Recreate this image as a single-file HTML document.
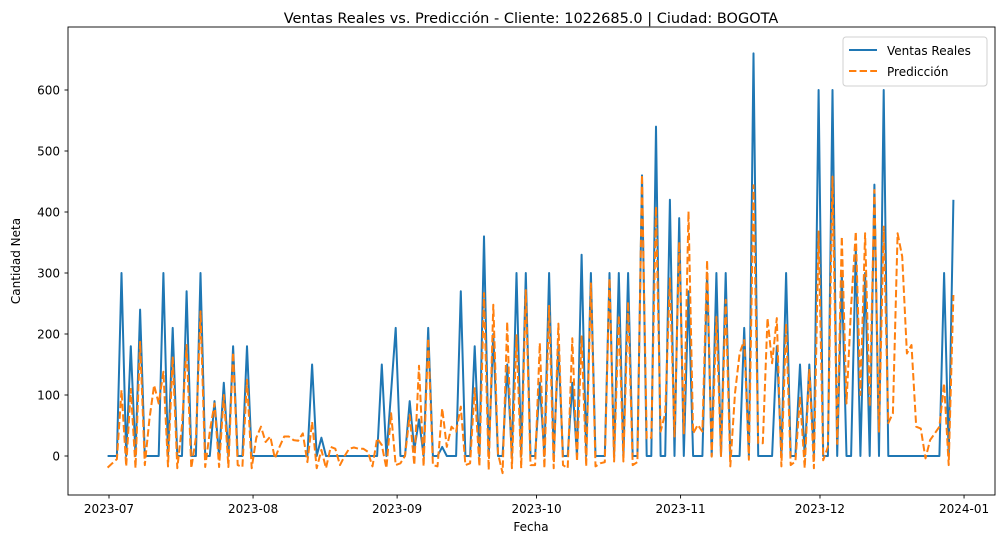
<!DOCTYPE html>
<html><head><meta charset="utf-8"><style>
body{margin:0;background:#fff;font-family:"Liberation Sans","DejaVu Sans",sans-serif}
svg text{font-family:"DejaVu Sans","Liberation Sans",sans-serif;fill:#000}
</style></head><body>
<svg id="chart" width="1005" height="548" xmlns="http://www.w3.org/2000/svg">
<rect width="1005" height="548" fill="#fff"/>
<text x="531" y="23" font-size="14.5" text-anchor="middle">Ventas Reales vs. Predicción - Cliente: 1022685.0 | Ciudad: BOGOTA</text>
<g id="grid"></g>
<g id="series"></g>
<rect x="68" y="27" width="927" height="468" fill="none" stroke="#000" stroke-width="0.9"/>
<g id="axes"></g>
<text x="531" y="531" font-size="12" text-anchor="middle">Fecha</text>
<text transform="translate(20,261) rotate(-90)" font-size="12" text-anchor="middle">Cantidad Neta</text>
<g>
<rect x="843" y="37" width="144" height="49" rx="3" fill="#fff" stroke="#ccc" stroke-width="1" opacity="0.9"/>
<line x1="849" y1="50" x2="877" y2="50" stroke="#1f77b4" stroke-width="2"/>
<text x="887" y="55" font-size="12">Ventas Reales</text>
<line x1="849" y1="71" x2="877" y2="71" stroke="#ff7f0e" stroke-width="2" stroke-dasharray="7.4,3.2"/>
<text x="887" y="76" font-size="12">Predicción</text>
</g>
</svg>
<script>
// Nonzero actual sales: day offset from 2023-07-01 and value
const realDays=[3,5,7,12,14,17,20,23,25,27,30,44,46,59,61,62,65,66,67,69,72,76,79,81,83,86,88,90,93,95,97,100,102,104,108,110,112,115,118,121,123,125,129,131,133,137,139,144,146,149,151,153,156,158,161,163,165,167,180,182];
const realVals=[300,180,240,300,210,270,300,90,120,180,180,150,30,150,105,210,90,10,60,210,15,270,180,360,200,150,300,300,120,300,180,120,330,300,300,300,300,460,540,420,390,270,300,300,300,210,660,180,300,150,150,600,600,300,340,300,445,600,300,420];
// Daily predictions, day 0..182
const predVals=[-19,-12,-5,108,-17,110,-20,187,-15,60,116,86,138,-17,163,-20,50,182,-20,30,237,-18,40,86,-18,100,-18,170,-15,-18,125,-20,30,48,23,32,-4,15,32,32,26,25,37,-10,56,-20,10,-20,15,12,-15,0,12,14,12,12,7,-17,29,18,-20,70,-15,-12,0,67,-15,148,-17,193,-15,-17,78,15,48,40,81,-15,-12,111,-17,267,-23,248,4,-28,220,-20,198,-20,272,-15,-15,185,-20,246,-20,217,-15,-20,193,-9,196,-17,283,-17,-12,-10,291,-9,231,-9,253,-15,-10,461,29,30,409,40,70,291,32,351,37,401,37,51,40,321,-1,228,0,256,-17,103,168,190,-6,444,21,21,226,152,226,-17,217,-15,-9,97,-20,141,-20,368,-7,15,458,20,360,86,245,368,100,365,81,436,40,376,54,70,365,327,168,182,48,45,-4,26,37,48,119,-15,264];
const tickLabels=["2023-07","2023-08","2023-09","2023-10","2023-11","2023-12","2024-01"];
const tickDays=[0,31,62,92,123,153,184];
const yTicks=[0,100,200,300,400,500,600];

const NS="http://www.w3.org/2000/svg";
const xOf=d=>109+d*4.647;
const xData=d=>xOf(d-0.3);
const yOf=v=>456-v*0.61;
function mk(tag,attrs,parent){const e=document.createElementNS(NS,tag);for(const k in attrs)e.setAttribute(k,attrs[k]);parent.appendChild(e);return e;}
const axes=document.getElementById('axes'),series=document.getElementById('series');
yTicks.forEach(v=>{
  const t=mk('line',{x1:64.5,x2:68,y1:yOf(v),y2:yOf(v),stroke:'#000','stroke-width':0.9},axes);
  
  
  const l=mk('text',{x:60,y:yOf(v)+4.3,'font-size':12,'text-anchor':'end'},axes);
  l.textContent=v;
  
  
});
tickDays.forEach((d,i)=>{
  const t=mk('line',{x1:xOf(d),x2:xOf(d),y1:495,y2:498.5,stroke:'#000','stroke-width':0.9},axes);
  
  
  const l=mk('text',{x:xOf(d),y:513,'font-size':12,'text-anchor':'middle'},axes);
  l.textContent=tickLabels[i];
  
  
});
const N=predVals.length;
const real=new Array(N).fill(0);
realDays.forEach((d,i)=>{real[d]=realVals[i];});
const rp=real.map((v,d)=>xData(d).toFixed(1)+','+yOf(v).toFixed(1)).join(' ');
const rl=mk('polyline',{points:rp,fill:'none',stroke:'#1f77b4','stroke-width':2,'stroke-linejoin':'round'},series);


const pp=predVals.map((v,d)=>xData(d).toFixed(1)+','+yOf(v).toFixed(1)).join(' ');
const pl=mk('polyline',{points:pp,fill:'none',stroke:'#ff7f0e','stroke-width':2,'stroke-dasharray':'7.4,3.2','stroke-linejoin':'round'},series);


</script>
</body></html>
